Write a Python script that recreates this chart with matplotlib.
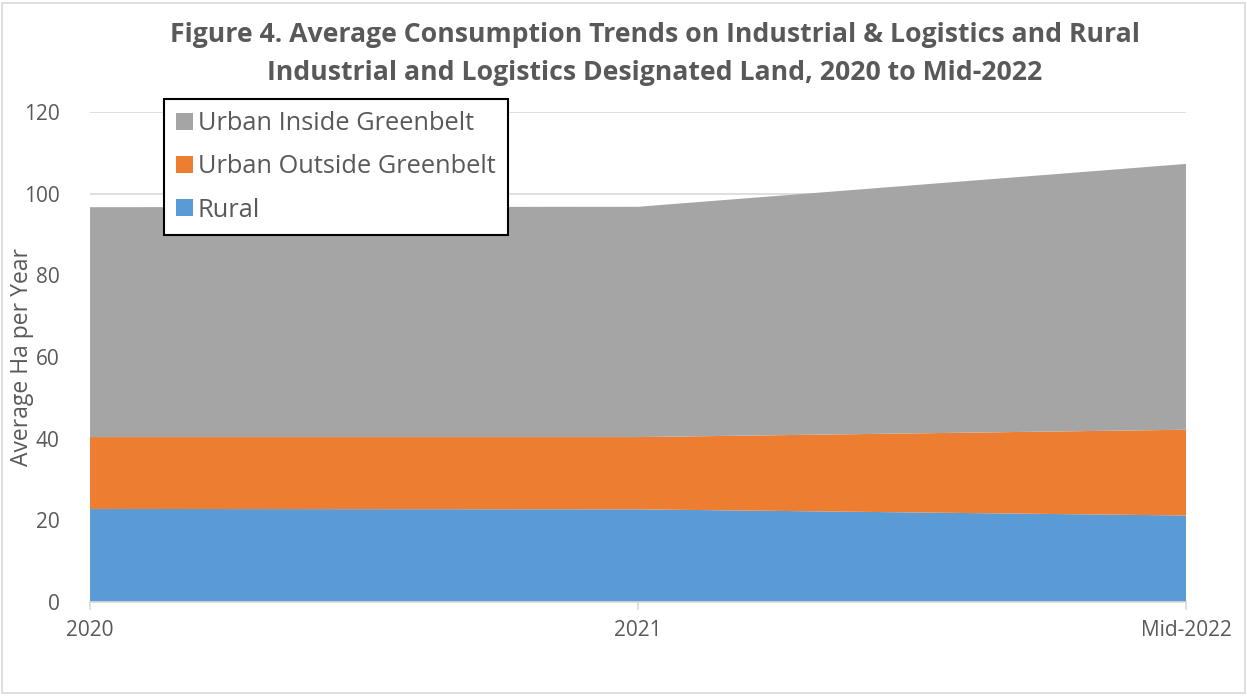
import numpy as np
import matplotlib.pyplot as plt
from matplotlib.patches import Rectangle

# Data
periods = ['2020', '2021', 'Mid-2022']
rural = [22.8, 22.7, 21.2]
urban_outside = [17.6, 17.7, 21.0]
urban_inside = [56.3, 56.4, 65.1]

labels = ['Rural', 'Urban Outside Greenbelt', 'Urban Inside Greenbelt']
colors = ['#5b9bd5', '#ed7d31', '#a5a5a5']
text_color = '#595959'

plt.rcParams['font.family'] = ['Open Sans', 'DejaVu Sans']

fig = plt.figure(figsize=(12.47, 6.96), dpi=100)
ax = fig.add_axes([0.0722, 0.135, 0.8790, 0.704])

x = np.arange(len(periods))
ax.stackplot(x, rural, urban_outside, urban_inside, colors=colors, labels=labels,
             edgecolor='none', zorder=2)

ax.set_xlim(0, len(periods) - 1)
ax.set_ylim(0, 120)
ax.set_yticks(np.arange(0, 121, 20))
ax.set_xticks(x)
ax.set_xticklabels(periods)
ax.grid(axis='y', color='#d9d9d9', linewidth=1.2, zorder=0)
ax.set_axisbelow(True)

for s in ['top', 'right', 'left']:
    ax.spines[s].set_visible(False)
ax.spines['bottom'].set_color('#d9d9d9')
ax.spines['bottom'].set_linewidth(1.2)
ax.spines['bottom'].set_zorder(3)

ax.tick_params(axis='y', length=0, labelsize=15, labelcolor=text_color, pad=22)
ax.tick_params(axis='x', length=6, color='#d9d9d9', width=1.2, labelsize=15,
               labelcolor=text_color, pad=7)
ax.set_ylabel('Average Ha per Year', fontsize=16.5, color=text_color)
ax.yaxis.set_label_coords(-0.051, 0.5)

fig.text(0.525, 0.949, 'Figure 4. Average Consumption Trends on Industrial & Logistics and Rural',
         ha='center', va='center', fontsize=19.2, fontweight='bold', color=text_color)
fig.text(0.525, 0.895, 'Industrial and Logistics Designated Land, 2020 to Mid-2022',
         ha='center', va='center', fontsize=19.2, fontweight='bold', color=text_color)

handles, lbls = ax.get_legend_handles_labels()
leg = ax.legend(handles[::-1], lbls[::-1], loc='upper left', bbox_to_anchor=(0.0675, 1.027),
                fontsize=18.3, frameon=True, fancybox=False, edgecolor='black', framealpha=1,
                handlelength=0.65, handleheight=0.65, handletextpad=0.2,
                labelspacing=0.72, borderpad=0.48, borderaxespad=0, labelcolor=text_color)
leg.get_frame().set_linewidth(1.5)
leg.set_zorder(5)

# outer chart border
fig.patches.append(Rectangle((0.002, 0.005), 0.996, 0.99, transform=fig.transFigure,
                             fill=False, edgecolor='#d9d9d9', linewidth=1.2))

fig.savefig('out.png', dpi=100)
